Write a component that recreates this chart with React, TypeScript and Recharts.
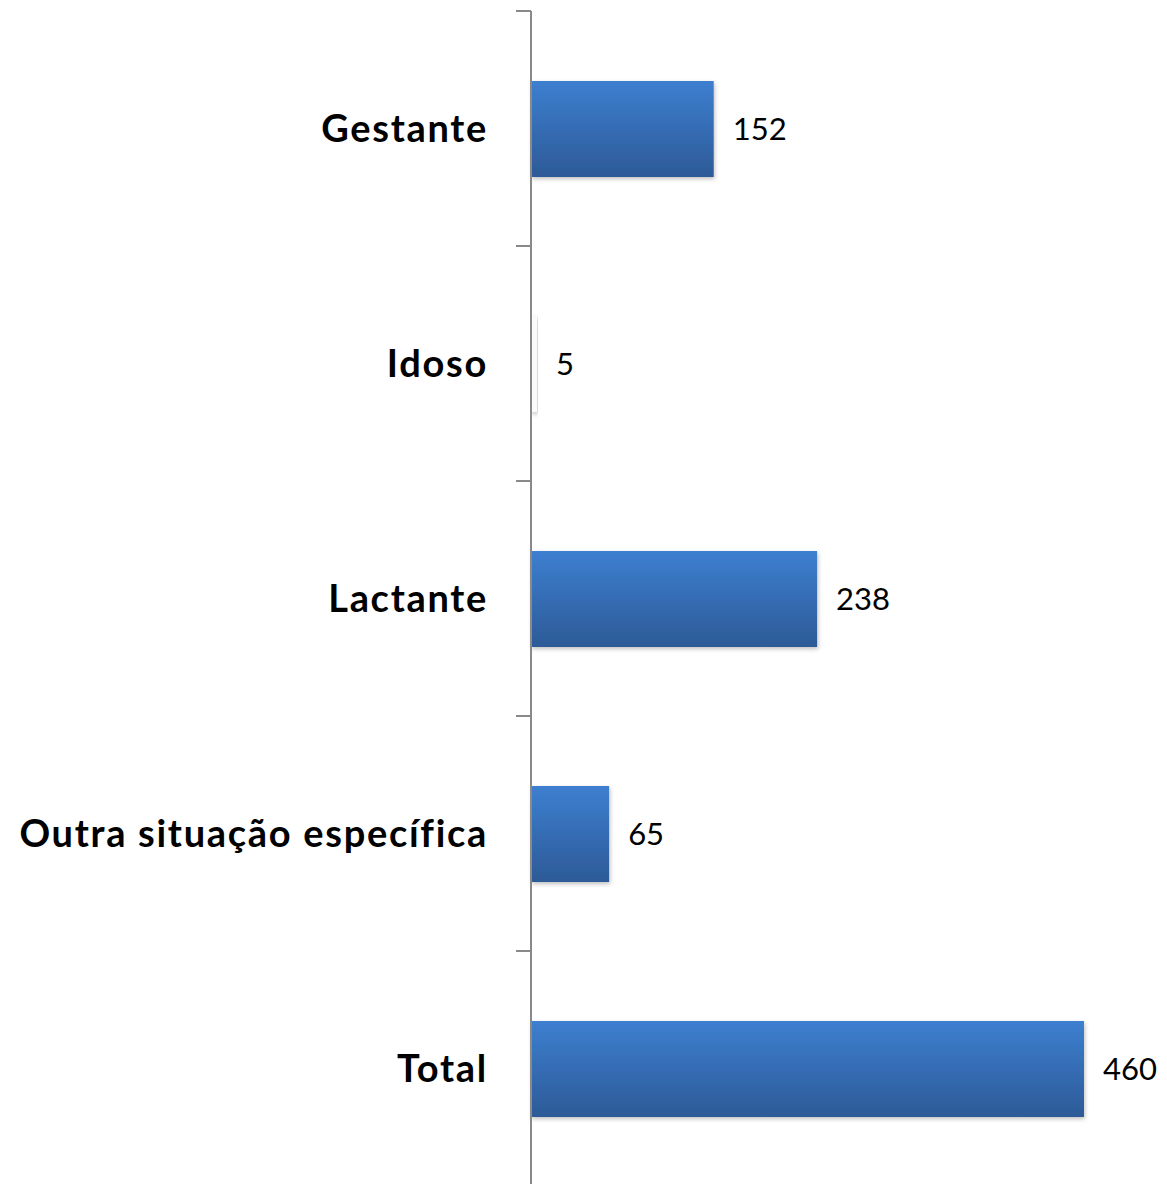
import { Bar, BarChart, Cell, LabelList, XAxis, YAxis } from "recharts";

const categories = ["Gestante", "Idoso", "Lactante", "Outra situação específica", "Total"];
const values = [152, 5, 238, 65, 460];

const data = categories.map((name, i) => ({ name, value: values[i] }));

const CHART_W = 1167;
const CHART_H = 1190;
const TOP = 11;
const BOTTOM = 4;
const BAND = (CHART_H - TOP - BOTTOM) / categories.length;

// Excel-style category axis: tick marks sit between categories, not at their centres.
function CategoryTick(props: any) {
  const { x, y, payload, index } = props;
  const axisX = x + 8;
  return (
    <g>
      <line x1={axisX - 15} x2={axisX} y1={y - BAND / 2} y2={y - BAND / 2} stroke="#898989" strokeWidth={2} />
      {index === categories.length - 1 && (
        <line x1={axisX - 15} x2={axisX} y1={y + BAND / 2} y2={y + BAND / 2} stroke="#898989" strokeWidth={2} />
      )}
      <text
        x={axisX - 43}
        y={y}
        dy="0.36em"
        textAnchor="end"
        fontFamily="Lato, 'Open Sans', sans-serif"
        fontWeight={700}
        fontSize={38}
        letterSpacing={1.7}
        fill="#000"
      >
        {payload.value}
      </text>
    </g>
  );
}

export default function App() {
  return (
    <div style={{ position: "absolute", left: 0, top: 0, background: "#fff" }}>
      <BarChart
        width={CHART_W}
        height={CHART_H}
        data={data}
        layout="vertical"
        margin={{ top: TOP, right: 83, bottom: BOTTOM, left: 0 }}
        barCategoryGap={0}
      >
        <defs>
          <linearGradient id="barFill" x1="0" y1="0" x2="0" y2="1">
            <stop offset="0%" stopColor="#3d7fd0" />
            <stop offset="100%" stopColor="#2d5a97" />
          </linearGradient>
          <filter id="shadow" x="-5%" y="-10%" width="115%" height="130%">
            <feDropShadow dx={1} dy={2} stdDeviation={2} floodColor="#000" floodOpacity={0.25} />
          </filter>
        </defs>
        <XAxis type="number" domain={[0, 460]} hide />
        <YAxis
          type="category"
          dataKey="name"
          width={531}
          axisLine={{ stroke: "#898989", strokeWidth: 2 }}
          tickLine={false}
          tick={<CategoryTick />}
          interval={0}
        />
        <Bar dataKey="value" barSize={96} isAnimationActive={false} filter="url(#shadow)">
          {data.map((d) => (
            <Cell key={d.name} fill={d.name === "Idoso" ? "#fbfbfb" : "url(#barFill)"} />
          ))}
          <LabelList
            dataKey="value"
            position="right"
            offset={19}
            fill="#000"
            fontSize={31}
            fontFamily="Lato, 'Open Sans', sans-serif"
          />
        </Bar>
      </BarChart>
    </div>
  );
}
